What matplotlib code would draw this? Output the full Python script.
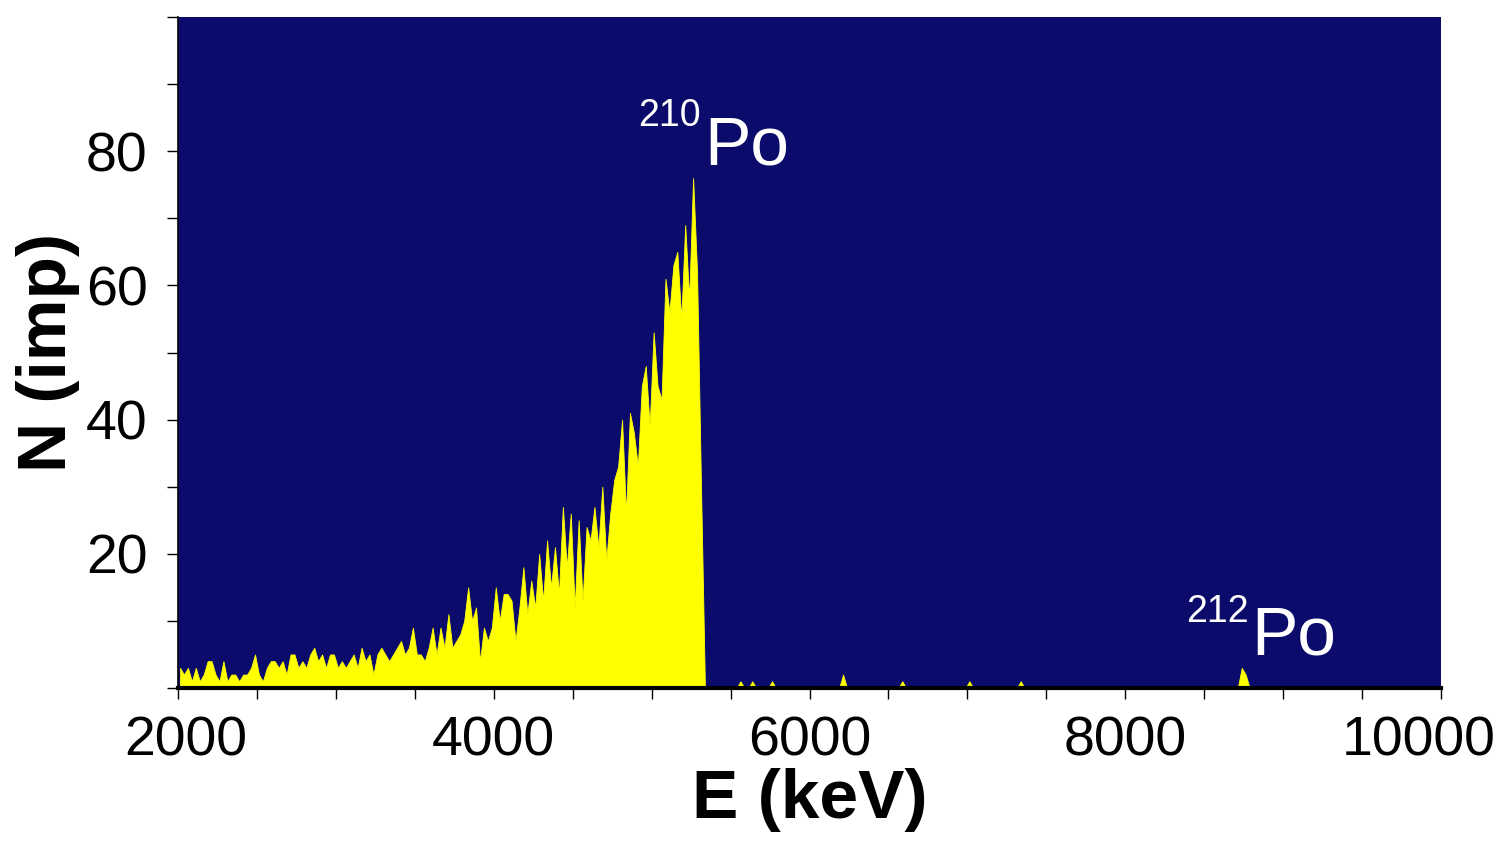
import numpy as np
import matplotlib
matplotlib.use('Agg')
import matplotlib.pyplot as plt
import matplotlib.transforms as mtransforms

plt.rcParams['font.family'] = ['Liberation Sans', 'DejaVu Sans']

# spectrum, 25 keV bins starting at 2000 keV (counts)
binWidth = 25
eStart = 2000
counts210 = [3, 2, 3, 1, 3, 1, 2, 4, 4, 2, 1, 4, 1, 2, 2, 1, 2, 2, 3, 5,
             2, 1, 3, 4, 4, 3, 4, 2, 5, 5, 3, 4, 3, 5, 6, 4, 5, 3, 5, 5,
             3, 4, 3, 4, 5, 3, 6, 4, 5, 2, 5, 6, 5, 4, 5, 6, 7, 5, 6, 9,
             5, 5, 4, 6, 9, 5, 9, 6, 11, 6, 7, 8, 10, 15, 10, 12, 4, 9, 7, 9,
             15, 10, 14, 14, 13, 7, 12, 18, 11, 16, 12, 20, 13, 22, 15, 21, 14, 27, 18, 26,
             12, 25, 13, 24, 22, 27, 21, 30, 19, 26, 31, 33, 40, 26, 41, 38, 33, 45, 48, 39,
             53, 45, 43, 61, 56, 63, 65, 55, 69, 58, 76, 62, 30]
# sparse counts above the 210Po edge
tailE = [5560, 5640, 5760, 6210, 6580, 7000, 7330, 8740, 8765]
tailN = [1, 1, 1, 2, 1, 1, 1, 3, 2]

xTicks = [2000, 4000, 6000, 8000, 10000]
xMinor = list(range(2000, 10001, 500))
yTicks = [20, 40, 60, 80]
yMinor = list(range(0, 101, 10))

nBins = (10000 - eStart) // binWidth
hist = np.zeros(nBins)
hist[:len(counts210)] = counts210
for e, n in zip(tailE, tailN):
    hist[int((e - eStart) / binWidth)] = n
centers = eStart + binWidth * (np.arange(nBins) + 0.5)

fig = plt.figure(figsize=(15.05, 8.42), dpi=100)
ax = fig.add_axes([0.1183, 0.1829, 0.8392, 0.7969])
ax.set_facecolor('#0b0b6b')
ax.fill_between(centers, 0, hist, color='#ffff00', linewidth=0.6, edgecolor='#ffff00')

ax.set_xlim(2000, 10000)
ax.set_ylim(0, 100)
ax.set_xticks(xTicks)
ax.set_xticks(xMinor, minor=True)
ax.set_yticks(yTicks)
ax.set_yticks(yMinor, minor=True)
ax.tick_params(which='both', direction='out', length=8, width=1, colors='black')
ax.tick_params(axis='both', labelsize=40)
ax.tick_params(axis='x', pad=12)
ax.tick_params(axis='y', pad=14)

# nudge the end labels the way they sit in the original
fig.canvas.draw()
xlabs = ax.get_xticklabels()
xlabs[0].set_transform(xlabs[0].get_transform() + mtransforms.ScaledTranslation(0.08, 0, fig.dpi_scale_trans))
xlabs[-1].set_transform(xlabs[-1].get_transform() + mtransforms.ScaledTranslation(-0.22, 0, fig.dpi_scale_trans))

for s in ['top', 'right']:
    ax.spines[s].set_visible(False)
ax.spines['bottom'].set_linewidth(3)
ax.spines['left'].set_linewidth(1.2)

ax.set_xlabel('E (keV)', fontsize=50, fontweight='bold', labelpad=0)
ax.set_ylabel('N (imp)', fontsize=50, fontweight='bold', labelpad=4)

# peak labels
ax.text(5330, 78, 'Po', color='white', fontsize=50, ha='left', va='baseline')
ax.text(5310, 88, '210', color='white', fontsize=27, ha='right', va='top')
ax.text(8800, 5, 'Po', color='white', fontsize=50, ha='left', va='baseline')
ax.text(8780, 14, '212', color='white', fontsize=27, ha='right', va='top')

plt.savefig('out.png', dpi=100)
